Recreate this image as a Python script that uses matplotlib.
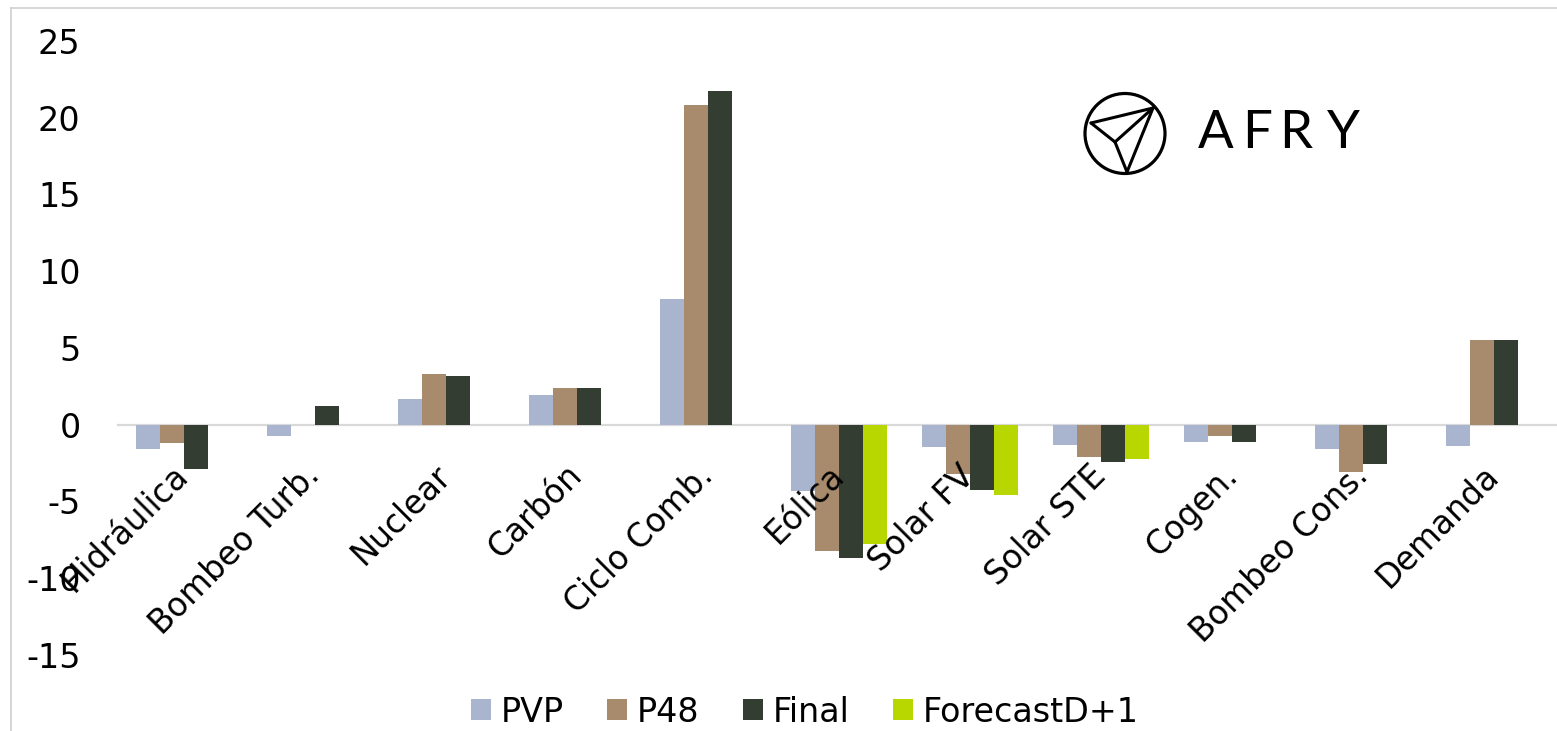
import numpy as np
import matplotlib
matplotlib.use("Agg")
import matplotlib.pyplot as plt
from matplotlib.lines import Line2D
from matplotlib.patches import Circle

# Category and series data
categories = ["Hidráulica", "Bombeo Turb.", "Nuclear", "Carbón", "Ciclo Comb.",
              "Eólica", "Solar FV", "Solar STE", "Cogen.", "Bombeo Cons.", "Demanda"]
pvp = [-1.6, -0.75, 1.7, 1.95, 8.2, -4.3, -1.45, -1.3, -1.1, -1.6, -1.4]
p48 = [-1.2, 0.0, 3.3, 2.4, 20.8, -8.2, -3.2, -2.1, -0.75, -3.1, 5.5]
final = [-2.9, 1.2, 3.15, 2.4, 21.75, -8.65, -4.25, -2.45, -1.1, -2.55, 5.5]
forecast = [0, 0, 0, 0, 0, -7.8, -4.6, -2.2, 0, 0, 0]

series_names = ["PVP", "P48", "Final", "ForecastD+1"]
series_values = [pvp, p48, final, forecast]
colors = ["#A9B5CE", "#A88A6C", "#333D31", "#B8D600"]

y_ticks = [-15, -10, -5, 0, 5, 10, 15, 20, 25]

W, H = 1557, 731
fig = plt.figure(figsize=(W / 100, H / 100), dpi=100)
fig.patch.set_facecolor("white")

left_px, right_px, top_px, bot_px = 118, 1559.5, 41, 655
ax = fig.add_axes([left_px / W, 1 - bot_px / H, (right_px - left_px) / W, (bot_px - top_px) / H])

x = np.arange(len(categories))
bw = 24 / 131
for i, (name, vals, c) in enumerate(zip(series_names, series_values, colors)):
    ax.bar(x + (i - 1.5) * bw, vals, width=bw, color=c, label=name, zorder=1)

ax.set_xlim(-0.5, len(categories) - 0.5)
ax.set_ylim(-15, 25)
ax.set_yticks(y_ticks)
ax.set_yticklabels([str(t) for t in y_ticks])

for s in ["top", "right", "left"]:
    ax.spines[s].set_visible(False)
ax.spines["bottom"].set_position(("data", 0))
ax.spines["bottom"].set_color("#D9D9D9")
ax.spines["bottom"].set_linewidth(1.6)
ax.spines["bottom"].set_zorder(0.5)

# category labels sit on top of the bars
ax.xaxis.set_zorder(3)
ax.yaxis.set_zorder(3)

ax.tick_params(axis="y", length=0, pad=27, labelsize=24, labelcolor="black")
ax.tick_params(axis="x", length=0, pad=33, labelsize=23.5, labelcolor="black")
ax.set_xticks(x)
ax.set_xticklabels(categories, rotation=45, ha="right", va="center",
                   rotation_mode="anchor")

leg = fig.legend(loc="center", bbox_to_anchor=(805 / W, 1 - 712 / H), ncol=4,
                 frameon=False, fontsize=24, handlelength=0.6, handleheight=0.6,
                 handletextpad=0.3, columnspacing=1.3)

# Overlay in pixel coordinates for the frame and the logo
ov = fig.add_axes([0, 0, 1, 1], facecolor="none")
ov.set_xlim(0, W)
ov.set_ylim(H, 0)
ov.axis("off")
ov.add_line(Line2D([11, 11], [8, H], color="#D0D0D0", lw=1.2))
ov.add_line(Line2D([11, W], [8, 8], color="#D0D0D0", lw=1.2))

cx, cy, r = 1125, 133.5, 40
ov.add_patch(Circle((cx, cy), r, fill=False, ec="black", lw=2.3))
A = (1153, 108)
L = (1091, 123)
I = (1115, 142)
B = (1127, 172)
for p, q in [(A, L), (L, I), (I, B), (I, A), (A, B)]:
    ov.add_line(Line2D([p[0], q[0]], [p[1], q[1]], color="black", lw=2.2,
                       solid_capstyle="round"))
for ch, xc in zip("AFRY", [1216, 1257, 1296, 1343]):
    ov.text(xc, 134, ch, fontsize=38, family="Lato", fontweight="normal",
            ha="center", va="center", color="black")

fig.savefig("out.png", dpi=100)
